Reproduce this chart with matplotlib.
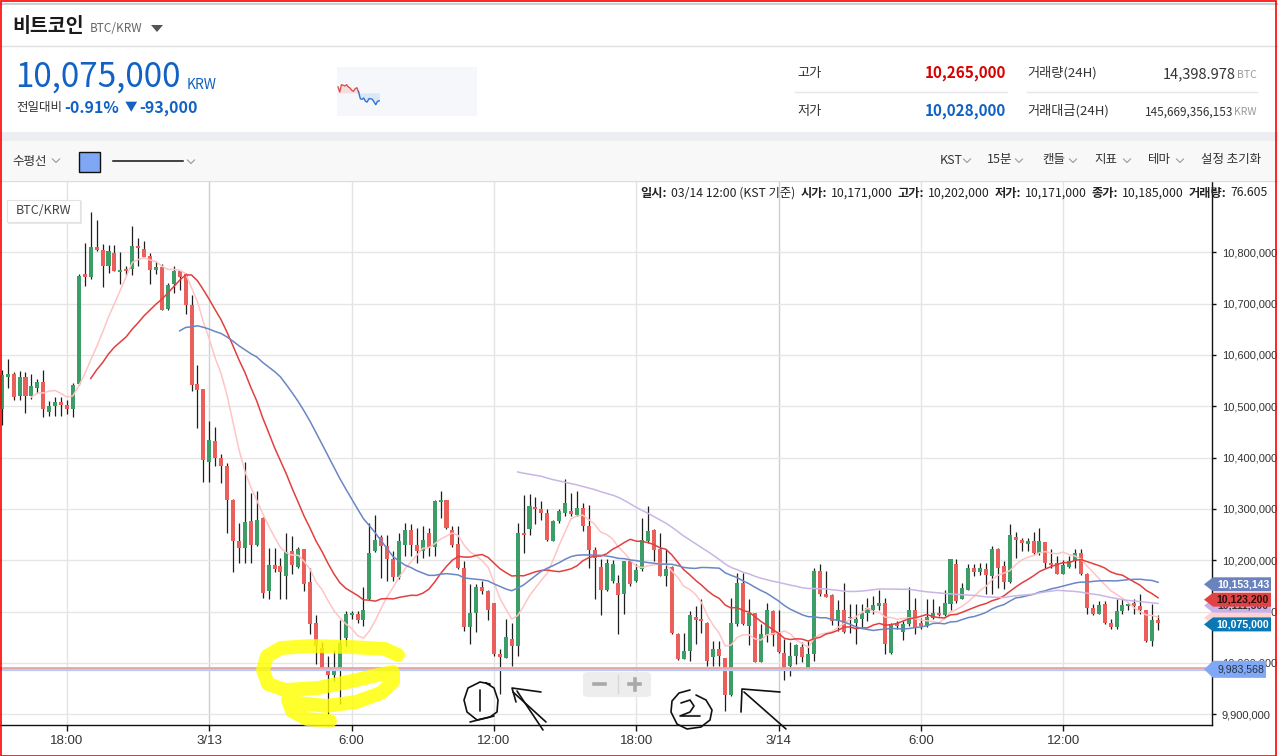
import numpy as np
import pandas as pd
import matplotlib
matplotlib.use('Agg')
import matplotlib.pyplot as plt
from matplotlib.patches import Rectangle, Polygon, FancyBboxPatch
from matplotlib.lines import Line2D

plt.rcParams['font.family'] = ['Noto Sans CJK KR', 'DejaVu Sans']

# ---------------- data: 15-minute candles, prices in thousand KRW ----------------
start_time = '2018-03-12 14:15'
opens = [10495, 10470, 10490, 10465, 10494, 10557, 10563, 10520, 10557, 10520,
         10536, 10547, 10489, 10500, 10509, 10502, 10494, 10543, 10758, 10751,
         10811, 10805, 10773, 10798, 10761, 10768, 10768, 10813, 10807, 10792,
         10766, 10772, 10690, 10739, 10763, 10757, 10698, 10544, 10533, 10392,
         10433, 10399, 10383, 10317, 10237, 10224, 10276, 10229, 10282, 10141,
         10191, 10188, 10170, 10218, 10187, 10221, 10157, 10077, 10030, 9991,
         9976, 9989, 10049, 10094, 10095, 10084, 10124, 10219, 10245, 10227,
         10203, 10168, 10229, 10258, 10229, 10218, 10253, 10226, 10313, 10318,
         10258, 10231, 10185, 10069, 10097, 10148, 10141, 10116, 10017, 10009,
         10046, 10032, 10254, 10261, 10304, 10300, 10292, 10238, 10276, 10293,
         10295, 10289, 10302, 10266, 10220, 10187, 10142, 10160, 10155, 10134,
         10198, 10160, 10182, 10237, 10258, 10222, 10170, 10187, 10057, 10007,
         10024, 10090, 10085, 10077, 10012, 10027, 10009, 9937, 10075, 10155,
         10072, 10097, 10002, 10055, 10102, 10059, 10020, 9994, 10014, 10031,
         9991, 10017, 10180, 10135, 10132, 10082, 10104, 10087, 10077, 10086,
         10098, 10104, 10111, 10117, 10019, 10077, 10060, 10075, 10104, 10077,
         10071, 10088, 10098, 10093, 10114, 10193, 10125, 10142, 10185, 10177,
         10183, 10170, 10221, 10189, 10157, 10245, 10239, 10231, 10237, 10214,
         10236, 10195, 10194, 10174, 10187, 10198, 10214, 10174, 10106, 10095,
         10114, 10077, 10069, 10101, 10110, 10117, 10110, 10103, 10043, 10084]
highs = [10505, 10500, 10495, 10505, 10570, 10593, 10567, 10569, 10566, 10562,
         10554, 10570, 10510, 10518, 10518, 10513, 10545, 10757, 10819, 10879,
         10862, 10817, 10815, 10815, 10801, 10774, 10852, 10828, 10823, 10799,
         10784, 10777, 10740, 10774, 10765, 10759, 10716, 10580, 10533, 10472,
         10460, 10407, 10390, 10320, 10273, 10392, 10332, 10334, 10285, 10224,
         10224, 10205, 10253, 10248, 10225, 10221, 10185, 10093, 10041, 10014,
         10025, 10083, 10101, 10102, 10101, 10148, 10273, 10289, 10250, 10250,
         10219, 10254, 10273, 10270, 10263, 10266, 10263, 10318, 10334, 10318,
         10266, 10266, 10198, 10153, 10153, 10160, 10143, 10116, 10027, 10085,
         10078, 10273, 10328, 10330, 10323, 10315, 10299, 10279, 10299, 10358,
         10332, 10334, 10312, 10308, 10226, 10202, 10202, 10200, 10172, 10198,
         10201, 10192, 10282, 10305, 10260, 10253, 10221, 10189, 10059, 10059,
         10101, 10111, 10124, 10079, 10043, 10043, 10009, 10127, 10176, 10176,
         10124, 10098, 10075, 10116, 10104, 10104, 10046, 10040, 10036, 10040,
         10043, 10185, 10192, 10180, 10134, 10122, 10155, 10114, 10114, 10114,
         10127, 10130, 10142, 10127, 10077, 10082, 10082, 10148, 10127, 10088,
         10124, 10125, 10111, 10142, 10203, 10203, 10156, 10192, 10192, 10195,
         10195, 10227, 10224, 10198, 10270, 10255, 10244, 10244, 10255, 10263,
         10236, 10221, 10208, 10201, 10208, 10221, 10221, 10176, 10114, 10121,
         10121, 10085, 10124, 10124, 10117, 10124, 10134, 10104, 10114, 10093]
lows = [10455, 10460, 10450, 10460, 10463, 10535, 10512, 10512, 10487, 10515,
        10525, 10480, 10481, 10481, 10481, 10485, 10480, 10541, 10735, 10748,
        10802, 10732, 10759, 10763, 10739, 10755, 10755, 10774, 10790, 10739,
        10758, 10687, 10688, 10720, 10727, 10680, 10530, 10457, 10353, 10353,
        10383, 10350, 10254, 10177, 10195, 10195, 10195, 10227, 10127, 10125,
        10177, 10125, 10125, 10174, 10185, 10140, 10056, 9997, 9989, 9900,
        9965, 9920, 10033, 10085, 10077, 10072, 10122, 10216, 10166, 10159,
        10159, 10164, 10208, 10208, 10195, 10205, 10208, 10208, 10282, 10260,
        10226, 10182, 10062, 10037, 10060, 10135, 10084, 10014, 9939, 10009,
        9994, 10014, 10214, 10250, 10270, 10279, 10237, 10237, 10273, 10286,
        10286, 10286, 10257, 10185, 10124, 10093, 10140, 10155, 10056, 10095,
        10150, 10158, 10179, 10234, 10198, 10169, 10149, 10056, 10006, 10007,
        10004, 10037, 10059, 9994, 9994, 9994, 9907, 9935, 10072, 10074,
        10035, 10001, 10001, 10041, 10033, 10020, 9967, 9975, 9998, 10001,
        9988, 10004, 10130, 10128, 10073, 10062, 10059, 10059, 10036, 10069,
        10082, 10095, 10104, 10017, 10017, 10067, 10045, 10072, 10056, 10066,
        10069, 10085, 10091, 10091, 10103, 10117, 10124, 10142, 10170, 10172,
        10135, 10135, 10146, 10144, 10156, 10205, 10218, 10218, 10211, 10211,
        10185, 10185, 10174, 10174, 10185, 10185, 10172, 10095, 10093, 10095,
        10075, 10067, 10067, 10095, 10104, 10095, 10095, 10041, 10033, 10064]
closes = [10470, 10490, 10465, 10497, 10561, 10563, 10518, 10557, 10520, 10539,
          10547, 10494, 10500, 10509, 10502, 10494, 10542, 10753, 10751, 10811,
          10805, 10773, 10803, 10764, 10766, 10763, 10813, 10808, 10790, 10766,
          10772, 10688, 10737, 10764, 10751, 10697, 10541, 10531, 10395, 10434,
          10399, 10383, 10317, 10237, 10224, 10274, 10229, 10279, 10137, 10191,
          10182, 10177, 10216, 10190, 10222, 10153, 10075, 10033, 9991, 9976,
          9988, 10038, 10096, 10098, 10084, 10104, 10214, 10240, 10227, 10203,
          10168, 10237, 10258, 10229, 10218, 10239, 10226, 10315, 10318, 10263,
          10229, 10185, 10069, 10097, 10148, 10140, 10104, 10017, 10011, 10051,
          10032, 10253, 10249, 10305, 10299, 10292, 10240, 10277, 10295, 10312,
          10290, 10302, 10266, 10220, 10205, 10142, 10194, 10192, 10132, 10198,
          10153, 10181, 10240, 10257, 10220, 10170, 10183, 10058, 10007, 10024,
          10093, 10084, 10081, 10004, 10027, 10014, 9937, 10077, 10155, 10075,
          10097, 10002, 10056, 10103, 10054, 10022, 9985, 10014, 10035, 10011,
          10017, 10180, 10134, 10129, 10082, 10104, 10060, 10090, 10086, 10097,
          10106, 10112, 10117, 10036, 10075, 10071, 10075, 10104, 10069, 10071,
          10090, 10098, 10093, 10116, 10203, 10121, 10145, 10185, 10177, 10184,
          10172, 10221, 10185, 10157, 10250, 10239, 10234, 10237, 10214, 10237,
          10195, 10190, 10174, 10190, 10198, 10214, 10174, 10106, 10095, 10112,
          10077, 10069, 10101, 10112, 10114, 10110, 10103, 10043, 10084, 10077]

ma_periods = [10, 20, 35, 92]
ma_colors = ['#ffc4c4', '#e23f3f', '#6b86c4', '#c9b5e6']

hline_level = 9983568
# price-axis tags: pink (hidden), purple, red, blue, last price
tag_values = [10088000, 10111500, 10123200, 10153143, 10075000]
tag_show_text = [False, True, True, True, True]
tag_colors = ['#ffd2d2', '#c9b2ea', '#e04343', '#6a82bd', '#0b78b6']
tag_text_colors = ['#333333', '#333333', '#2a1010', '#ffffff', '#ffffff']

y_ticks = [9900000, 10000000, 10100000, 10200000, 10300000, 10400000,
           10500000, 10600000, 10700000, 10800000]

spark_prices = [10238, 10178, 10265, 10258, 10250, 10265, 10238, 10226, 10199, 10187,
                10218, 10229, 10178, 10099, 10092, 10107, 10068, 10060, 10099, 10099,
                10092, 10060, 10028, 10068, 10075]
prev_close = 10168

# ---------------- figure ----------------
W, H = 1278, 756
fig = plt.figure(figsize=(W / 100, H / 100), dpi=100)
fig.patch.set_facecolor('white')


def fx(x):
    return x / W


def fy(y):
    return 1 - y / H


def T(x, y, s, **kw):
    kw.setdefault('va', 'center')
    return fig.text(fx(x), fy(y), s, **kw)


def rect(x0, y0, x1, y1, **kw):
    r = Rectangle((fx(x0), fy(y1)), fx(x1) - fx(x0), fy(y0) - fy(y1),
                  transform=fig.transFigure, **kw)
    fig.add_artist(r)
    return r


def line(xs, ys, **kw):
    l = Line2D([fx(v) for v in xs], [fy(v) for v in ys], transform=fig.transFigure, **kw)
    fig.add_artist(l)
    return l


def chev(x, y, c='#9a9a9a'):
    line([x - 3.5, x, x + 3.5], [y - 2, y + 1.5, y - 2], color=c, lw=0.8)


# ---------------- header ----------------
rect(0, 3, W, 4.5, fc='#cfcfcf', ec='none', zorder=1)
line([0, W], [46, 46], color='#e0e0e0', lw=1)
T(12, 27, '비트코인', fontsize=14, weight='bold', color='#1b1b1b')
T(90, 29, 'BTC/KRW', fontsize=8.5, color='#666666')
fig.add_artist(Polygon([(fx(151), fy(25)), (fx(163), fy(25)), (fx(157), fy(32))],
                       closed=True, transform=fig.transFigure, fc='#555555', ec='none'))

T(15, 77, '10,075,000', fontsize=24, color='#1261c4')
T(187, 85, 'KRW', fontsize=10, color='#1261c4')
T(16, 108, '전일대비', fontsize=9, color='#333333')
T(64, 108, '-0.91%', fontsize=11.5, weight='bold', color='#1261c4')
T(125, 108, '▼', fontsize=9, color='#1261c4')
T(139, 108, '-93,000', fontsize=11.5, weight='bold', color='#1261c4')

T(797, 73, '고가', fontsize=9.5, color='#333333')
T(1006, 73, '10,265,000', ha='right', fontsize=11, weight='bold', color='#d80000')
line([795, 1007], [92, 92], color='#e6e6e6', lw=1)
T(797, 111, '저가', fontsize=9.5, color='#333333')
T(1006, 111, '10,028,000', ha='right', fontsize=11, weight='bold', color='#1261c4')
T(1027, 73, '거래량(24H)', fontsize=9.5, color='#333333')
T(1236, 74, '14,398.978', ha='right', fontsize=10.5, color='#333333')
T(1237, 75, 'BTC', fontsize=7.5, color='#999999')
line([1027, 1257], [92, 92], color='#e6e6e6', lw=1)
T(1027, 111, '거래대금(24H)', fontsize=9.5, color='#333333')
T(1233, 112, '145,669,356,153', ha='right', fontsize=8.5, color='#333333')
T(1234, 112, 'KRW', fontsize=7.5, color='#999999')

# sparkline
sax = fig.add_axes([fx(337), fy(116), fx(477) - fx(337), fy(67) - fy(116)])
sax.set_facecolor('#f5f7fa')
sx = np.arange(len(spark_prices))
sp = np.array(spark_prices, dtype=float)
sax.fill_between(sx, sp, prev_close, where=sp >= prev_close, interpolate=True,
                 color='#f7dede', lw=0)
sax.fill_between(sx, sp, prev_close, where=sp <= prev_close, interpolate=True,
                 color='#dbe6f7', lw=0)
sax.plot(sx[:13], sp[:13], color='#d9534f', lw=1)
sax.plot(sx[12:], sp[12:], color='#2f73d3', lw=1)
sax.set_xlim(-0.6, 81)
sax.set_ylim(9894, 10475)
sax.axis('off')
sax.add_patch(Rectangle((0, 0), 1, 1, transform=sax.transAxes, fc='#f5f7fa', ec='none', zorder=-1))

# band + toolbar
rect(0, 132, W, 141, fc='#eceef1', ec='none', zorder=1)
rect(0, 141, W, 180, fc='#f8f8f8', ec='none', zorder=1)
line([0, W], [180.5, 180.5], color='#dcdcdc', lw=1)
T(12, 161, '수평선', fontsize=9, color='#333333')
chev(56, 161)
rect(79, 152, 100, 172, fc='#7fa7f5', ec='#111111', lw=1, zorder=2)
line([113, 183], [161, 161], color='#111111', lw=1.1)
chev(191, 162)
for xt, lab, xc in [(940, 'KST', 967), (987, '15분', 1019), (1042, '캔들', 1073),
                    (1094, '지표', 1127), (1148, '테마', 1180)]:
    T(xt, 160, lab, fontsize=9, color='#333333')
    chev(xc, 161)
T(1201, 160, '설정 초기화', fontsize=9, color='#333333')

# ---------------- main chart ----------------
ax = fig.add_axes([0, fy(725), fx(1212), (725 - 182) / H])
ax.set_facecolor('white')
n = len(closes)
idx = np.arange(n)
o = np.array(opens) * 1000.0
h = np.array(highs) * 1000.0
l = np.array(lows) * 1000.0
c = np.array(closes) * 1000.0
times = pd.date_range(start_time, periods=n, freq='15min')

ax.set_xlim(3.7, 208.1)
ax.set_ylim(9879000, 10937000)

up_c = c >= o
col = np.where(up_c, '#3c9d66', '#ea5f5a')
ax.vlines(idx, l, h, color='#1e1e1e', lw=0.9, zorder=3)
body_h = np.maximum(np.abs(c - o), 2000)
ax.bar(idx, body_h, bottom=np.minimum(o, c), width=0.68, color=col, lw=0, zorder=4)

cs = pd.Series(c)
for p, mc in zip(ma_periods, ma_colors):
    ax.plot(idx, cs.rolling(p).mean(), color=mc, lw=1.1, zorder=5)

# horizontal line (user drawn)
off_up = matplotlib.transforms.offset_copy(ax.transData, fig=fig, x=0, y=3, units='dots')
off_dn = matplotlib.transforms.offset_copy(ax.transData, fig=fig, x=0, y=1, units='dots')
ax.plot([3.7, 208.1], [hline_level, hline_level], color='#f2a0a4', lw=2.0, transform=off_up, zorder=6)
ax.plot([3.7, 208.1], [hline_level, hline_level], color='#b4cdf4', lw=1.6, transform=off_dn, zorder=6)

# grid
mask = (times.minute == 0) & (times.hour % 6 == 0)
xt = idx[mask]
xlabels = [f'{t.month}/{t.day}' if t.hour == 0 else f'{t.hour}:{t.minute:02d}' for t in times[mask]]
for xv, t in zip(xt, times[mask]):
    ax.axvline(xv, color='#cfcfcf' if t.hour == 0 else '#e4e4e4', lw=1, zorder=1)
for yv in y_ticks:
    ax.axhline(yv, color='#e6e6e6', lw=1, zorder=1)

ax.set_xticks(xt, xlabels, fontfamily='Liberation Sans', fontsize=9.5, color='#333333')
ax.yaxis.tick_right()
ax.set_yticks(y_ticks, [f'{v:,}' for v in y_ticks], fontfamily='Liberation Sans',
              fontsize=8, color='#333333')
ax.tick_params(axis='x', length=4, width=1, color='#111111', pad=3)
ax.tick_params(axis='y', length=3, width=1, color='#111111', pad=4)
for s in ['left', 'top']:
    ax.spines[s].set_visible(False)
for s in ['right', 'bottom']:
    ax.spines[s].set_color('#111111')
    ax.spines[s].set_linewidth(1)


# tags on the price axis (drawn in order so later tags cover earlier ones)
def tag(value, text, fc, tc, z, weight='bold', hh=7.0, right=1271, dy=0.0, ec='none'):
    yd = ax.transData.transform((4, value))[1]
    yt = H - yd + dy
    pts = [(1204, yt), (1213, yt - hh), (right, yt - hh), (right, yt + hh), (1213, yt + hh)]
    fig.add_artist(Polygon([(fx(a), fy(b)) for a, b in pts], closed=True,
                           transform=fig.transFigure, fc=fc, ec=ec, lw=0.8, zorder=z))
    if text:
        fig.text(fx((1213 + right) / 2 + 1), fy(yt), text, ha='center', va='center',
                 fontsize=7.6, color=tc, weight=weight, family='Liberation Sans',
                 zorder=z + 0.5)


zz = 20
for v, show, fc, tc in zip(tag_values, tag_show_text, tag_colors, tag_text_colors):
    tag(v, f'{v:,}' if show else '', fc, tc, zz)
    zz += 1
tag(hline_level, f'{hline_level:,}', '#80a8f4', '#26324a', zz, weight='normal',
    hh=8.5, right=1266, dy=-2)

# info line
segs = [('일시:', True), ('03/14 12:00 (KST 기준)', False), ('시가:', True), ('10,171,000', False),
        ('고가:', True), ('10,202,000', False), ('저가:', True), ('10,171,000', False),
        ('종가:', True), ('10,185,000', False), ('거래량:', True), ('76.605', False)]
renderer = fig.canvas.get_renderer()
base_fs = 8.5
gaps = [4, 5, 4, 5, 4, 5, 4, 5, 4, 5, 4, 0]
widths = []
for s, b in segs:
    t = fig.text(0, 0, s, fontsize=base_fs, weight='bold' if b else 'normal')
    widths.append(t.get_window_extent(renderer).width)
    t.remove()
scale = (1268 - 640 - sum(gaps)) / sum(widths)
fs = base_fs * scale
x = 640
for (s, b), g, w in zip(segs, gaps, widths):
    T(x, 193, s, fontsize=fs, weight='bold' if b else 'normal', color='#222222', zorder=10)
    x += w * scale + g

# BTC/KRW badge
fig.add_artist(FancyBboxPatch((fx(8), fy(224)), fx(74), (224 - 201) / H,
                              boxstyle='square,pad=0', transform=fig.transFigure,
                              fc='#e9e9e9', ec='none', zorder=8))
fig.add_artist(FancyBboxPatch((fx(7), fy(222)), fx(73), (222 - 200) / H,
                              boxstyle='square,pad=0', transform=fig.transFigure,
                              fc='white', ec='#e2e2e2', lw=0.8, zorder=9))
T(43.5, 211, 'BTC/KRW', ha='center', fontsize=9, color='#444444', zorder=10)

# zoom control
fig.add_artist(FancyBboxPatch((fx(583), fy(697)), fx(68), 25 / H,
                              boxstyle='round,pad=0,rounding_size=0.004',
                              transform=fig.transFigure, fc='#ececec', ec='none',
                              alpha=0.9, zorder=12))
line([594, 605], [684, 684], color='#a9a9a9', lw=2.6, zorder=13)
line([629, 640], [684, 684], color='#a9a9a9', lw=2.6, zorder=13)
line([634.5, 634.5], [678.5, 689.5], color='#a9a9a9', lw=2.6, zorder=13)
line([618, 618], [675, 693], color='#d6d6d6', lw=1, zorder=13)

# yellow highlighter scribble
yx = [398, 385, 350, 310, 281, 267, 263, 268, 285, 318, 352, 378, 393, 393, 381, 356, 326, 300,
      288, 292, 307, 330]
yy = [655, 649, 647, 646, 648, 656, 670, 684, 690, 688, 681, 675, 672, 682, 693, 702, 706, 703,
      700, 711, 719, 721]
line(yx, yy, color='#ffff00', lw=10, alpha=0.82, solid_capstyle='round',
     solid_joinstyle='round', zorder=14)

# hand-drawn marks (1) and (2) with arrows
ink = dict(color='#111111', lw=1.2, zorder=15, solid_capstyle='round', solid_joinstyle='round')
line([490, 480, 468, 464, 467, 477, 490, 497, 498, 494, 486], [684, 682, 688, 700, 712, 720, 717, 712, 700, 688, 683], **ink)
line([480, 480], [690, 711], **ink)
line([470, 494], [722, 716], **ink)
line([541, 512, 516], [692, 688, 702], **ink)
line([513, 546], [692, 722], **ink)
line([517, 543], [691, 730], **ink)
line([690, 679, 672, 671, 677, 687, 701, 710, 712, 706, 696],
     [690, 693, 701, 712, 724, 729, 727, 720, 710, 700, 695], **ink)
line([681, 690, 694, 690, 680, 700], [703, 700, 706, 712, 716, 716], **ink)
line([780, 742, 741], [692, 689, 712], **ink)
line([744, 786], [692, 729], **ink)

# outer red frame of the screenshot
fig.add_artist(Rectangle((0.5 / W, 0.5 / H), (W - 2.5) / W, (H - 1.5) / H, transform=fig.transFigure,
                         fill=False, ec='#ff0000', lw=1.2, zorder=30))

fig.savefig('out.png', dpi=100, facecolor='white')
